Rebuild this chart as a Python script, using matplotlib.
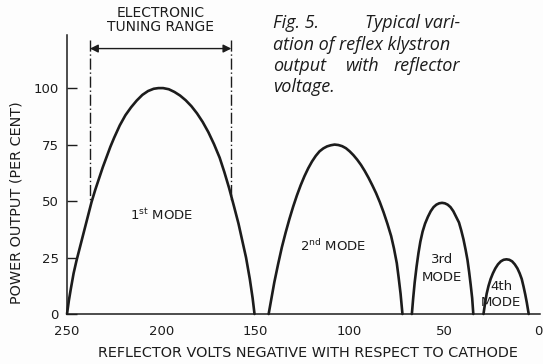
#Reflex klystron output against reflector voltage
import matplotlib.pyplot as plt

# reflector volts (negative w.r.t. cathode) and power output (per cent) per mode
mode1_volts = [250, 249, 248, 246.5, 245, 243, 241, 239, 237, 235, 233, 231, 229,
               227, 225, 222, 219, 216, 213, 210, 207, 204, 201.5, 199, 196, 193,
               190, 187, 184, 181, 178, 175, 172, 169, 166.5, 164, 161.5, 159,
               157, 155, 153, 151.5, 150.5]
mode1_power = [0, 6, 11, 18, 23.5, 30, 36.5, 43, 49.5, 55, 60, 65, 69.5,
               74, 78, 83.5, 88, 91.5, 94.5, 97, 98.7, 99.7, 100, 100, 99.5, 98.3,
               96.7, 94.6, 92, 88.8, 85, 80.5, 75.2, 69.2, 62.8, 55.8, 48, 40,
               32.5, 25, 15.5, 7, 0]

mode2_volts = [143, 141.5, 140, 138, 136, 134, 132, 130, 128, 126, 124, 122, 120,
               118, 116, 114, 112, 110, 108, 106, 104, 102, 100, 98, 96, 94, 92,
               90, 88, 86, 84, 82, 80, 78, 76.5, 75, 74, 73, 72]
mode2_power = [0, 7, 14, 22, 29.5, 36, 42, 47.5, 52.5, 57, 61, 64.5, 67.5,
               70, 72, 73.3, 74.2, 74.7, 75, 74.8, 74.3, 73.4, 72, 70.3, 68.3, 66, 63.3,
               60.3, 57, 53.5, 49.5, 45, 40, 34.5, 29, 22.5, 16, 9, 0]

mode3_volts = [67, 66.3, 65.5, 64.5, 63.5, 62.5, 61.3, 60, 58.5, 57, 55.5, 54,
               52.5, 51, 49.5, 48, 46.5, 45, 43.5, 42, 40.8, 39.6, 38.5, 37.5,
               36.6, 35.8, 35, 34.4]
mode3_power = [0, 7, 14, 21, 27, 32, 36.5, 40, 43, 45.5, 47.3, 48.4,
               49, 49.2, 49, 48.4, 47.3, 45.5, 43, 40.5, 37, 33, 28.5, 24,
               18.5, 13, 7, 0]

mode4_volts = [29, 28.2, 27.3, 26.3, 25.2, 24, 22.7, 21.3, 19.8, 18.3, 16.8, 15.3,
               13.8, 12.4, 11, 9.8, 8.7, 7.7, 6.8, 6, 5]
mode4_power = [0, 4.5, 9, 12.5, 15.5, 18, 20.2, 22, 23.3, 24, 24.2, 24,
               23.3, 22, 20.2, 18, 15.5, 12, 8.5, 5, 0]

x_ticks = [250, 200, 150, 100, 50, 0]
y_ticks = [0, 25, 50, 75, 100]

# electronic tuning range limits (volts) for the 1st mode
tuning_lo = 237.8
tuning_hi = 162.8


def main():
    ink = "#1c1c1c"
    fig = plt.figure(figsize=(5.43, 3.64), dpi=100, facecolor="#fdfdfd")
    ax = fig.add_axes([0.1234, 0.1374, 0.8711, 0.7664])
    ax.set_facecolor("#fdfdfd")

    for v, p in [(mode1_volts, mode1_power), (mode2_volts, mode2_power),
                 (mode3_volts, mode3_power), (mode4_volts, mode4_power)]:
        ax.plot(v, p, color=ink, lw=1.9, solid_joinstyle="round",
                solid_capstyle="round", clip_on=False)

    ax.set_xlim(250, -1)
    ax.set_ylim(0, 123.5)

    for s in ["top", "right"]:
        ax.spines[s].set_visible(False)
    for s in ["left", "bottom"]:
        ax.spines[s].set_color(ink)
        ax.spines[s].set_linewidth(1.1)

    tick_font = dict(family="DejaVu Sans", fontsize=9.5, color=ink)
    lab_font = dict(family="DejaVu Sans", fontsize=10.4, color=ink)
    ax.set_xticks(x_ticks)
    ax.set_xticklabels([str(t) for t in x_ticks], **tick_font)
    ax.set_yticks(y_ticks)
    ax.set_yticklabels([str(t) for t in y_ticks], **tick_font)
    ax.tick_params(axis="x", direction="in", length=0, pad=8)
    ax.tick_params(axis="y", direction="in", length=7, width=1, color=ink, pad=6)
    ax.set_xticks([200, 100, 50, 0], minor=True)
    ax.tick_params(axis="x", which="minor", direction="in", length=7, width=1, color=ink)

    ax.set_xlabel("REFLECTOR VOLTS NEGATIVE WITH RESPECT TO CATHODE",
                  va="center", **lab_font)
    ax.xaxis.set_label_coords(0.51, -0.141)
    ax.set_ylabel("POWER OUTPUT (PER CENT)", va="center", **lab_font)
    ax.yaxis.set_label_coords(-0.106, 0.40)

    # mode names
    mode_font = dict(family="DejaVu Sans", fontsize=9.5, color=ink,
                     ha="center", va="center")
    ax.text(200, 44, r"1$^{\mathrm{st}}$ MODE", **mode_font)
    ax.text(108.5, 30, r"2$^{\mathrm{nd}}$ MODE", **mode_font)
    ax.text(50.9, 24, "3rd", **mode_font)
    ax.text(50.9, 16, "MODE", **mode_font)
    ax.text(19.6, 12, "4th", **mode_font)
    ax.text(19.6, 5, "MODE", **mode_font)

    # electronic tuning range markers
    for v in [tuning_lo, tuning_hi]:
        ax.plot([v, v], [121.5, 50], color=ink, lw=1.0,
                ls=(0, (8, 2, 1, 2)), clip_on=False)
    ax.annotate("", xy=(tuning_lo, 117.5), xytext=(tuning_hi, 117.5),
                arrowprops=dict(arrowstyle="<|-|>", color=ink, lw=1.0,
                                mutation_scale=12, shrinkA=0, shrinkB=0),
                annotation_clip=False)
    ax.text((tuning_lo + tuning_hi) / 2, 124, "ELECTRONIC\nTUNING RANGE",
            ha="center", va="bottom", fontsize=10, color=ink,
            family="DejaVu Sans", linespacing=1.0, clip_on=False)

    # caption
    cap = dict(family="Open Sans", style="italic", fontsize=13, color=ink,
               va="center", ha="left")
    fig.text(273 / 543, 1 - 23 / 364, "Fig. 5.", **cap)
    fig.text(460 / 543, 1 - 23 / 364, "Typical vari-", **dict(cap, ha="right"))
    fig.text(273 / 543, 1 - 45 / 364, "ation of reflex klystron", **cap)
    fig.text(273 / 543, 1 - 66 / 364, "output", **cap)
    fig.text(363 / 543, 1 - 66 / 364, "with", **dict(cap, ha="center"))
    fig.text(460 / 543, 1 - 66 / 364, "reflector", **dict(cap, ha="right"))
    fig.text(273 / 543, 1 - 87 / 364, "voltage.", **cap)

    fig.savefig("out.png", dpi=100, facecolor=fig.get_facecolor())


if __name__ == "__main__":
    main()
